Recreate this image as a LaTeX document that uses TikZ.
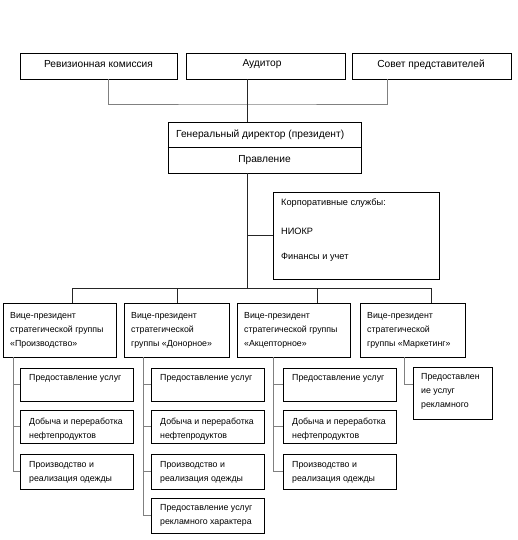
\documentclass[tikz,border=0pt]{standalone}
\usepackage{fontspec}
\setmainfont{Liberation Sans}
\usetikzlibrary{fit}
\begin{document}
\begin{tikzpicture}[x=1pt,y=-1pt,
  box/.style={draw, line width=0.8pt, inner sep=0pt},
  txt/.style={inner sep=0pt, anchor=north west, align=left, font=\fontsize{8.8}{14}\selectfont},
  bigtxt/.style={inner sep=0pt, font=\fontsize{10.2}{14}\selectfont},
  corptxt/.style={inner sep=0pt, anchor=north west, font=\fontsize{9.2}{14}\selectfont},
  conn/.style={line width=0.8pt, draw=black!85},
  gconn/.style={line width=0.9pt, draw=black!50}]
\useasboundingbox[fill=white] (0,0) rectangle (518,540);
% top row
\node[box, fit={(20,53) (177,79)}] (r1) {};
\node[box, fit={(186,53) (345,79)}] (r2) {};
\node[box, fit={(352,53) (511,79)}] (r3) {};
\node[bigtxt] (r1t) at (98.5,64.5) {Ревизионная комиссия};
\node[bigtxt] (r2t) at (262,64.5) {Аудитор};
\node[bigtxt] (r3t) at (431,64.5) {Совет представителей};
% general director
\node[box, fit={(168,122) (361,173)}] (gd) {};
\draw[line width=0.8pt] ([yshift=-26pt]gd.north west) -- ([yshift=-26pt]gd.north east);
\node[bigtxt, anchor=west] (gdt) at (176,135) {Генеральный директор (президент)};
\node[bigtxt] (gdp) at (264.5,160) {Правление};
% connectors top
\coordinate (jt) at (247,104);
\coordinate (g1) at (108,0);
\coordinate (g3) at (387,0);
\draw[gconn] (r1.south -| g1) |- (jt) -| (r3.south -| g3);
\draw[conn] (r2.south -| jt) -- (gd.north -| jt);
% corporate services
\node[box, fit={(273,192) (439,279)}] (corp) {};
\node[corptxt] (ct1) at (281,198.5) {Корпоративные службы:};
\node[corptxt] (ct2) at (281,227.5) {НИОКР};
\node[corptxt] (ct3) at (281,252.5) {Финансы и учет};
\coordinate (bus) at (247,288);
\draw[conn] (gd.south -| jt) -- (bus);
\draw[conn] (corp.west -| jt) -- (corp.west);
% VP boxes
\node[box, fit={(3,303) (116,357)}] (v1) {};
\node[box, fit={(124,303) (229,357)}] (v2) {};
\node[box, fit={(237,303) (350,357)}] (v3) {};
\node[box, fit={(360,303) (465,357)}] (v4) {};
\node[txt] (v1t) at (10,312) {Вице-президент\\стратегической группы\\«Производство»};
\node[txt] (v2t) at (131,312) {Вице-президент\\стратегической\\группы «Донорное»};
\node[txt] (v3t) at (244,312) {Вице-президент\\стратегической группы\\«Акцепторное»};
\node[txt] (v4t) at (367,312) {Вице-президент\\стратегической\\группы «Маркетинг»};
\coordinate (b1) at (72,288);
\coordinate (b2) at (177,288);
\coordinate (b3) at (317,288);
\coordinate (b4) at (431,288);
\draw[conn] (b1) -- (b4);
\draw[conn] (b1) -- (v1.north -| b1);
\draw[conn] (b2) -- (v2.north -| b2);
\draw[conn] (b3) -- (v3.north -| b3);
\draw[conn] (b4) -- (v4.north -| b4);
% group 1 children
\node[box, fit={(20,368) (133,401)}] (a1) {};
\node[box, fit={(20,410) (133,443)}] (a2) {};
\node[box, fit={(20,454) (133,489)}] (a3) {};
\node[txt] (a1t) at (29,374) {Предоставление услуг};
\node[txt] (a2t) at (29,417.5) {Добыча и переработка\\нефтепродуктов};
\node[txt] (a3t) at (29,461.5) {Производство и\\реализация одежды};
% group 2 children
\node[box, fit={(151,368) (264,401)}] (d1) {};
\node[box, fit={(151,410) (264,443)}] (d2) {};
\node[box, fit={(151,454) (264,489)}] (d3) {};
\node[box, fit={(151,498) (264,533)}] (d4) {};
\node[txt] (d1t) at (160,374) {Предоставление услуг};
\node[txt] (d2t) at (160,417.5) {Добыча и переработка\\нефтепродуктов};
\node[txt] (d3t) at (160,461.5) {Производство и\\реализация одежды};
\node[txt] (d4t) at (160,504.5) {Предоставление услуг\\рекламного характера};
% group 3 children
\node[box, fit={(283,368) (396,401)}] (e1) {};
\node[box, fit={(283,410) (396,443)}] (e2) {};
\node[box, fit={(283,454) (396,489)}] (e3) {};
\node[txt] (e1t) at (292,374) {Предоставление услуг};
\node[txt] (e2t) at (292,417.5) {Добыча и переработка\\нефтепродуктов};
\node[txt] (e3t) at (292,461.5) {Производство и\\реализация одежды};
% group 4 child
\node[box, fit={(413,367) (492,419)}] (m1) {};
\node[txt] (m1t) at (421,373.5) {Предоставлен\\ие услуг\\рекламного};
% brackets
\coordinate (k1) at (13,0);
\coordinate (k2) at (143,0);
\coordinate (k3) at (273,0);
\coordinate (k4) at (404,0);
\draw[gconn] (v1.south -| k1) |- (a3.west);
\draw[gconn] (k1 |- a1.west) -- (a1.west);
\draw[gconn] (k1 |- a2.west) -- (a2.west);
\draw[gconn] (v2.south -| k2) |- (d4.west);
\draw[gconn] (k2 |- d1.west) -- (d1.west);
\draw[gconn] (k2 |- d2.west) -- (d2.west);
\draw[gconn] (k2 |- d3.west) -- (d3.west);
\draw[gconn] (v3.south -| k3) |- (e3.west);
\draw[gconn] (k3 |- e1.west) -- (e1.west);
\draw[gconn] (k3 |- e2.west) -- (e2.west);
\draw[gconn] (v4.south -| k4) |- ([yshift=9pt]m1.west);
\end{tikzpicture}
\end{document}
